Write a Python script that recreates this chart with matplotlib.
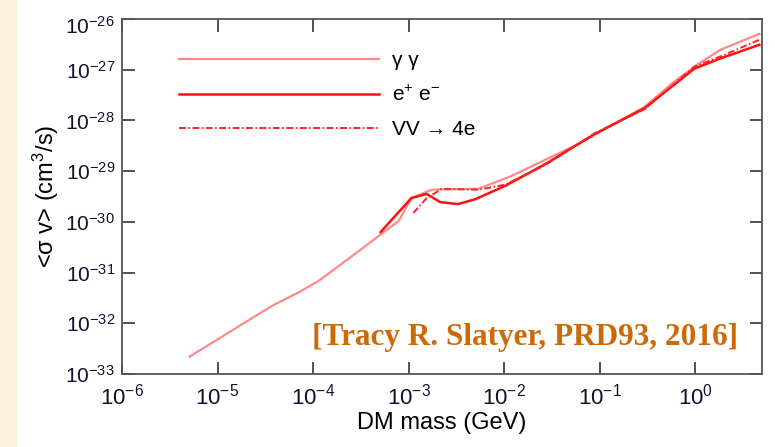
import numpy as np
import matplotlib
matplotlib.use('Agg')
import matplotlib.pyplot as plt
from matplotlib.patches import Rectangle
from matplotlib.ticker import NullLocator
from matplotlib.transforms import ScaledTranslation

plt.rcParams['font.family'] = ['Liberation Sans', 'DejaVu Sans']
plt.rcParams['mathtext.fontset'] = 'custom'
plt.rcParams['mathtext.rm'] = 'Liberation Sans'
plt.rcParams['mathtext.it'] = 'Liberation Sans:italic'
plt.rcParams['mathtext.bf'] = 'Liberation Sans:bold'

# gamma gamma
gg_mass = [5.1e-6, 3.7e-5, 7.1e-5, 1.15e-4, 3.2e-4, 7.9e-4, 1.07e-3, 1.74e-3,
           5.4e-3, 1.17e-2, 5.9e-2, 0.295, 0.60, 1.05, 1.82, 4.7]
gg_sv = [2.2e-33, 2.2e-32, 4.1e-32, 6.9e-32, 2.9e-31, 1.05e-30, 2.95e-30, 4.3e-30,
         4.5e-30, 7.9e-30, 3.4e-29, 1.86e-28, 5.8e-28, 1.26e-27, 2.45e-27, 5.1e-27]

# e+ e-
ee_mass = [5.1e-4, 1.07e-3, 1.55e-3, 2.14e-3, 3.3e-3, 5.0e-3, 1.02e-2,
           2.7e-2, 8.9e-2, 0.295, 0.98, 1.82, 4.7]
ee_sv = [6.3e-31, 2.95e-30, 3.55e-30, 2.45e-30, 2.24e-30, 2.8e-30, 5.1e-30,
         1.38e-29, 5.4e-29, 1.74e-28, 1.05e-27, 1.66e-27, 3.1e-27]

# VV -> 4e
vv_mass = [1.12e-3, 1.55e-3, 1.9e-3, 2.2e-3, 5.4e-3, 1.02e-2,
           2.7e-2, 8.9e-2, 0.295, 0.98, 2.0, 4.7]
vv_sv = [1.5e-30, 2.95e-30, 3.7e-30, 4.5e-30, 4.3e-30, 5.4e-30,
         1.32e-29, 5.6e-29, 1.66e-28, 1.15e-27, 1.95e-27, 3.9e-27]

labels = ['γ γ', r'e$^{+}$ e$^{-}$', 'VV → 4e']

x_lim = (1e-6, 5.0)
y_lim = (1e-33, 1e-26)
x_ticks = [1e-6, 1e-5, 1e-4, 1e-3, 1e-2, 1e-1, 1e0]
y_ticks = [1e-33, 1e-32, 1e-31, 1e-30, 1e-29, 1e-28, 1e-27, 1e-26]

fig = plt.figure(figsize=(7.75, 4.47), dpi=100)
fig.patch.set_facecolor('white')
fig.patches.append(Rectangle((0, 0), 0.022, 1, transform=fig.transFigure,
                             facecolor='#fbf0da', edgecolor='none', zorder=0))
ax = fig.add_axes([0.1574, 0.1633, 0.8258, 0.7942])

ax.plot(gg_mass, gg_sv, color='#ff8a8a', lw=1.6, label=labels[0])
ax.plot(ee_mass, ee_sv, color='#ff1010', lw=1.8, label=labels[1])
ax.plot(vv_mass, vv_sv, color='#ff2020', lw=1.4, dashes=(3.5, 1.3, 0.8, 1.3),
        label=labels[2])

ax.set_xscale('log')
ax.set_yscale('log')
ax.set_xlim(*x_lim)
ax.set_ylim(*y_lim)
ax.set_xticks(x_ticks)
ax.set_yticks(y_ticks)
ax.xaxis.set_minor_locator(NullLocator())
ax.yaxis.set_minor_locator(NullLocator())

ax.tick_params(which='major', direction='in', length=9, width=1.1, color='#222222',
               top=True, right=True, pad=5, labelcolor='#111133')
ax.tick_params(axis='y', labelsize=15)
ax.tick_params(axis='x', labelsize=16, pad=7)
for s in ax.spines.values():
    s.set_color('#555555')
    s.set_linewidth(1.3)

ax.set_xlabel('DM mass (GeV)', fontsize=17, labelpad=2)
ax.set_ylabel(r'<σ v> (cm$^3$/s)', fontsize=17, labelpad=3)

leg = ax.legend(loc='upper left', bbox_to_anchor=(0.06, 0.962), frameon=False,
                fontsize=15, handlelength=9.6, handletextpad=0.62, labelspacing=0.72)

ax.text(0.63, 0.104, '[Tracy R. Slatyer, PRD93, 2016]', transform=ax.transAxes,
        ha='center', va='center', fontsize=22.5, fontweight='bold',
        family=['Liberation Serif', 'DejaVu Serif'], color='#cc6a08')

# top y label sits a bit lower, as in the original
fig.canvas.draw()
for t in ax.yaxis.get_major_ticks():
    if abs(np.log10(t.get_loc()) - np.log10(y_lim[1])) < 0.01:
        t.label1.set_transform(t.label1.get_transform() +
                               ScaledTranslation(0, -0.06, fig.dpi_scale_trans))

fig.savefig('out.png', dpi=100)
